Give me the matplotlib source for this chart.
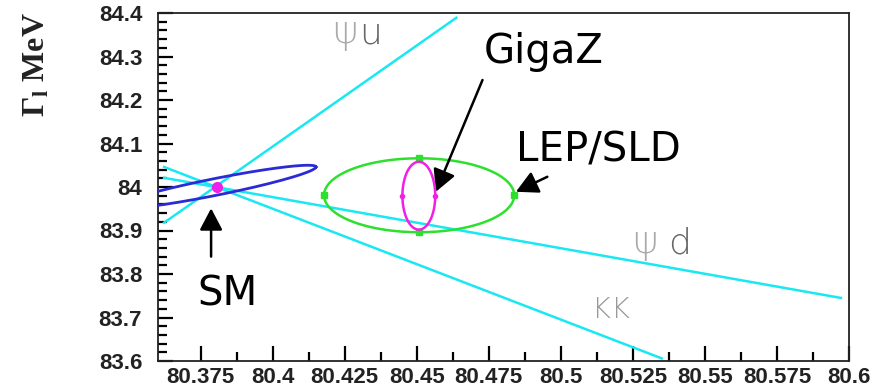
import numpy as np
import matplotlib
matplotlib.use('Agg')
import matplotlib.pyplot as plt
from matplotlib.ticker import FixedLocator, MultipleLocator

# axis ranges and ticks
x_range = [80.36, 80.6]
y_range = [83.6, 84.4]
x_ticks = [80.375, 80.4, 80.425, 80.45, 80.475, 80.5, 80.525, 80.55, 80.575, 80.6]
x_labels = ['80.375', '80.4', '80.425', '80.45', '80.475', '80.5', '80.525', '80.55', '80.575', '80.6']
y_ticks = [83.6, 83.7, 83.8, 83.9, 84.0, 84.1, 84.2, 84.3, 84.4]
y_labels = ['83.6', '83.7', '83.8', '83.9', '84', '84.1', '84.2', '84.3', '84.4']

# cyan bands (start / end points)
line_names = ['psi_u', 'psi_d', 'KK']
line_x0 = [80.3623, 80.3623, 80.3623]
line_x1 = [80.4637, 80.5972, 80.535]
line_y0 = [83.918, 84.021, 84.046]
line_y1 = [84.389, 83.745, 83.606]

# Standard Model point
sm_x = 80.3806
sm_y = 84.0

# tilted blue contour: centre, offset to the tip, half thickness
blue_c = [80.38, 84.0]
blue_tip = [0.035, 0.046]
blue_h = 0.0196

# LEP/SLD (green) and GigaZ (magenta) contours: centre, semi-axes
lep_c = [80.4508, 83.981]
lep_r = [0.033, 0.085]
gigaz_c = [80.4507, 83.980]
gigaz_r = [0.0057, 0.078]

fig = plt.figure(figsize=(8.87, 3.89), dpi=100)
ax = fig.add_axes([157.5 / 887, 28 / 389, (849 - 157.5) / 887, (361 - 13) / 389])

cyan = '#19e8f2'
for x0, x1, y0, y1 in zip(line_x0, line_x1, line_y0, line_y1):
    ax.plot([x0, x1], [y0, y1], color=cyan, lw=1.8, zorder=2)

t = np.linspace(0, 2 * np.pi, 201)

# blue ellipse (sheared)
bx = blue_c[0] + blue_tip[0] * np.cos(t)
by = blue_c[1] + blue_tip[1] * np.cos(t) + blue_h * np.sin(t)
ax.plot(bx, by, color='#2a2ad6', lw=2.0, zorder=3)

# LEP/SLD
gx = lep_c[0] + lep_r[0] * np.cos(t)
gy = lep_c[1] + lep_r[1] * np.sin(t)
ax.plot(gx, gy, color='#2ee02e', lw=1.8, zorder=3,
        marker='s', ms=4, markevery=[0, 50, 100, 150])

# GigaZ
mx = gigaz_c[0] + gigaz_r[0] * np.cos(t)
my = gigaz_c[1] + gigaz_r[1] * np.sin(t)
ax.plot(mx, my, color='#f020e8', lw=1.8, zorder=4,
        marker='o', ms=3, markevery=[0, 100])

ax.plot(sm_x, sm_y, 'o', color='#f020e8', ms=7, zorder=5)

# axes styling
ax.set_xlim(x_range)
ax.set_ylim(y_range)
ax.xaxis.set_major_locator(FixedLocator(x_ticks))
ax.xaxis.set_minor_locator(FixedLocator([v + 0.0125 for v in x_ticks[:-1]]))
ax.set_xticklabels(x_labels)
ax.yaxis.set_major_locator(FixedLocator(y_ticks))
ax.yaxis.set_minor_locator(MultipleLocator(0.02))
ax.set_yticklabels(y_labels)
ax.tick_params(which='both', direction='in', top=False, right=False, width=1.6, color='black')
ax.tick_params(which='major', length=11)
ax.tick_params(which='minor', length=6.5)
ax.tick_params(axis='x', pad=4.5)
ax.tick_params(axis='y', pad=11)
for lab in ax.get_xticklabels() + ax.get_yticklabels():
    lab.set_fontfamily('Liberation Sans')
    lab.set_fontweight('bold')
    lab.set_fontsize(16)
    lab.set_color('#222222')
for s in ax.spines.values():
    s.set_linewidth(1.3)
    s.set_color('#222222')

# y title
plt.rcParams['mathtext.fontset'] = 'custom'
plt.rcParams['mathtext.rm'] = 'Liberation Serif:bold'
plt.rcParams['mathtext.it'] = 'Liberation Serif:bold'
plt.rcParams['mathtext.bf'] = 'Liberation Serif:bold'
fig.text(37 / 887, 1 - 12 / 389, r'$\Gamma_{\rm l}$ MeV', rotation=90, ha='center', va='top',
         fontsize=23, fontfamily='Liberation Serif', fontweight='bold', color='#222222')

# band labels
ax.text(80.4205, 84.331, '\u03c8', fontsize=28, color='#aaaaaa', fontweight='light')
ax.text(80.4300, 84.331, 'u', fontsize=26, color='#666666', fontweight='light')
ax.text(80.5247, 83.848, '\u03c8', fontsize=28, color='#aaaaaa', fontweight='light')
ax.text(80.5372, 83.848, 'd', fontsize=26, color='#666666', fontweight='light')
ax.text(80.5109, 83.6985, 'KK', fontsize=21, color='#999999', fontweight='light')

# annotations
arrow = dict(arrowstyle='-|>,head_length=0.95,head_width=0.5', color='black', lw=1.8,
             mutation_scale=14, shrinkA=0, shrinkB=0)
ax.annotate('', xy=(80.3786, 83.951), xytext=(80.3786, 83.840), arrowprops=arrow)
ax.annotate('', xy=(80.4566, 83.989), xytext=(80.4728, 84.246), arrowprops=arrow)
ax.annotate('', xy=(80.4844, 83.989), xytext=(80.4953, 84.0235), arrowprops=arrow)
ax.text(80.3739, 83.728, 'SM', fontsize=29, color='black')
ax.text(80.4734, 84.285, 'GigaZ', fontsize=29, color='black')
ax.text(80.4845, 84.058, 'LEP/SLD', fontsize=29, color='black')

fig.savefig('out.png', dpi=100)
